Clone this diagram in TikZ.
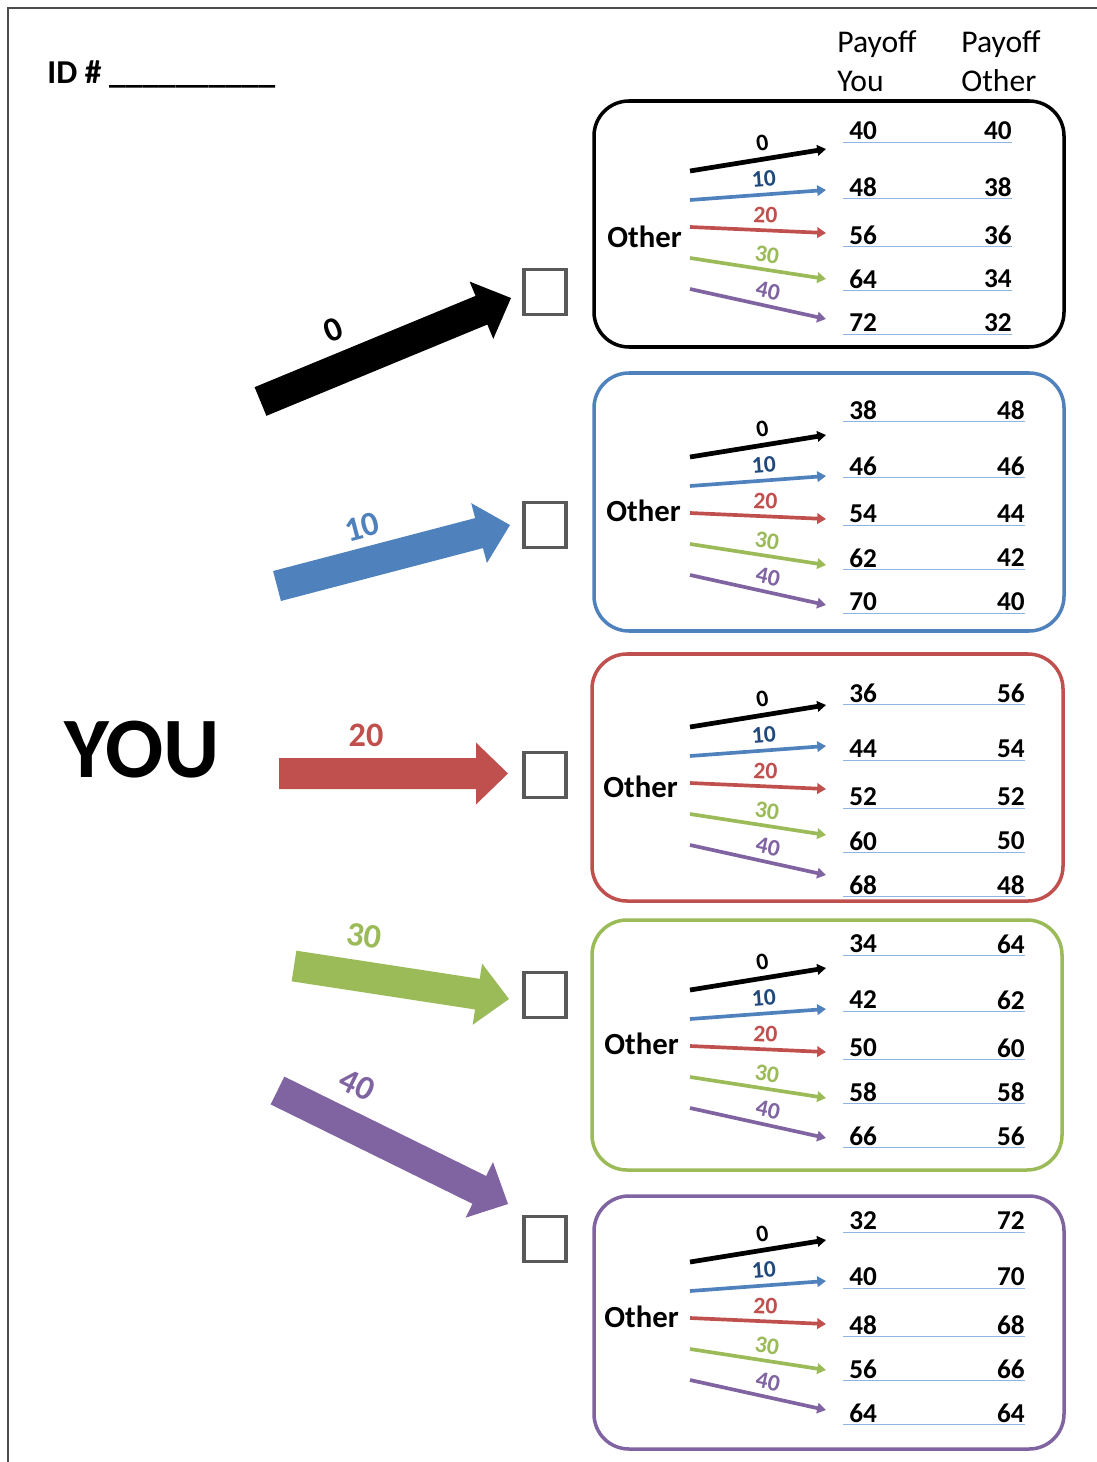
\documentclass[tikz,border=0pt]{standalone}
\usepackage{fontspec}
\setmainfont{Carlito}
\usetikzlibrary{calc,arrows.meta}

\definecolor{cblue}{RGB}{79,129,189}
\definecolor{cnavy}{RGB}{31,73,125}
\definecolor{cred}{RGB}{192,80,77}
\definecolor{cgreen}{RGB}{155,187,89}
\definecolor{cpurple}{RGB}{128,100,162}
\definecolor{cline}{RGB}{141,180,226}
\definecolor{cbox}{RGB}{89,89,89}

% fat block arrow: colour, tail, tip
\newcommand\fatarrow[3]{%
  \coordinate (fa-b) at ($(#3)!0.64cm!(#2)$);
  \fill[#1] ($(#2)!0.31cm!90:(#3)$) -- ($(fa-b)!0.31cm!90:(#3)$)
    -- ($(fa-b)!0.62cm!90:(#3)$) -- (#3) -- ($(fa-b)!0.62cm!-90:(#3)$)
    -- ($(fa-b)!0.31cm!-90:(#3)$) -- ($(#2)!0.31cm!-90:(#3)$) -- cycle;
}

\tikzset{
  frame/.style={line width=2pt, rounded corners=0.7cm},
  other/.style={anchor=west, font=\bfseries\fontsize{17.5}{21}\selectfont},
  head/.style={anchor=west, align=left, font=\fontsize{18}{22}\selectfont},
  pay/.style={font=\bfseries\fontsize{15.5}{18}\selectfont},
  choice/.style={-{Triangle[length=5pt,width=6pt]}},
  lbl/.style={font=\bfseries\fontsize{13.5}{15}\selectfont, pos=0.55, above, sloped, inner sep=3.2pt},
  biglbl/.style={font=\bfseries\fontsize{19.5}{23}\selectfont},
  chkbox/.style={draw=cbox, line width=2pt, minimum width=0.85cm, minimum height=0.9cm},
  uline/.style={cline, line width=1.1pt}
}

\begin{document}
\begin{tikzpicture}[x=0.02cm, y=-0.02cm, every node/.style={inner sep=0pt}]
  \useasboundingbox (0,0) rectangle (1097,1462);
  \draw[line width=0.8pt, black!70] (1097,8) -- (8,8) -- (8,1462);

  % header
  \node[anchor=base west, font=\bfseries\fontsize{19}{22}\selectfont] (id) at (47,84)
    {ID \# \_\_\_\_\_\_\_\_\_\_};
  \node[head] (hyou) at (837,61.5) {Payoff\\You};
  \node[head] (hoth) at (961,61.5) {Payoff\\Other};
  \node[font=\bfseries\fontsize{49}{52}\selectfont] (you) at (142,750) {YOU};

  % your choices
  \foreach \nr/\col/\cy/\tx/\ty/\hx/\hy/\lx/\ly/\ang in {
      0/black/292/260.5/401.5/511/298/333/330/22.4,
      1/cblue/525/277/586/510/525/362/527/14.7,
      2/cred/775/279/773.5/508/773.5/366/735/0,
      3/cgreen/995/294/966/509/999/364/936/-8.7,
      4/cpurple/1239/277.5/1090.5/508/1204/357/1085/-26.2} {
    \node[chkbox] (chk\nr) at (545,\cy) {};
    \coordinate (tail\nr) at (\tx,\ty);
    \coordinate (tip\nr) at (\hx,\hy);
    \fatarrow{\col}{tail\nr}{tip\nr}
    \pgfmathtruncatemacro\val{10*\nr}
    \node[biglbl, text=\col, rotate=\ang] (lab\nr) at (\lx,\ly) {\val};
  }

  % payoff boxes
  \foreach \nr/\col/\xl/\xr/\ytop/\ybot/\ay/\ox/\oy/\ry/\rx in {
      0/black/594/1064/101/347/171/607/237/131/1012,
      1/cblue/594/1064/373/631/457/606/511/410/1025,
      2/cred/592/1063/654/901/727/603/787/693/1025,
      3/cgreen/592/1062/920/1170/990/604/1044/944/1025,
      4/cpurple/594/1064/1196/1449/1262/604/1317/1221/1025} {
    \draw[frame, \col] (\xl,\ytop) rectangle (\xr,\ybot);
    \node[other] (oth\nr) at (\ox,\oy) {Other};
    \foreach \row/\lc/\ac/\lw/\sy/\ey/\dy in {
        0/black/black/2.7/0/-22/0,
        1/cnavy/cblue/2.1/29/19/56,
        2/cred/cred/2.1/56/62/104,
        3/cgreen/cgreen/2.1/87/108/148,
        4/cpurple/cpurple/2.1/118/148/192} {
      \pgfmathtruncatemacro\val{10*\row}
      \pgfmathtruncatemacro\pyou{40-2*\nr+8*\row}
      \pgfmathtruncatemacro\poth{40+8*\nr-2*\row}
      \coordinate (s\nr\row) at (690,\ay+\sy);
      \coordinate (e\nr\row) at (826,\ay+\ey);
      \draw[choice, \ac, line width=\lw pt] (s\nr\row) -- (e\nr\row) node[lbl, text=\lc] {\val};
      \node[pay, anchor=west] (py\nr\row) at (849,\ry+\dy) {\pyou};
      \node[pay, anchor=east] (po\nr\row) at (\rx,\ry+\dy) {\poth};
      \draw[uline] (843,\ry+\dy+11.5) -- (\rx,\ry+\dy+11.5);
    }
  }
\end{tikzpicture}
\end{document}
